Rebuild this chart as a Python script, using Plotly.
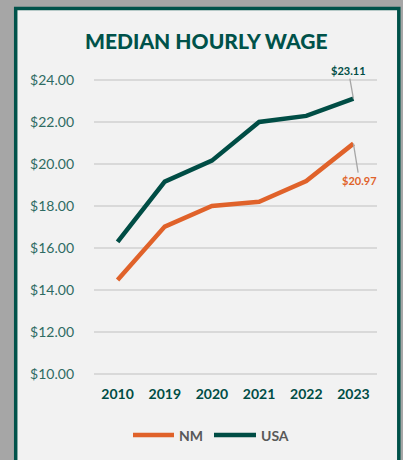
import plotly.graph_objects as go

years = ["2010", "2019", "2020", "2021", "2022", "2023"]
nm = [14.48, 17.02, 18.00, 18.20, 19.19, 20.97]
usa = [16.29, 19.16, 20.16, 22.00, 22.29, 23.11]
series_names = ["NM", "USA"]
tick_vals = [10, 12, 14, 16, 18, 20, 22, 24]
tick_text = ["$%.2f" % v for v in tick_vals]
title = "MEDIAN HOURLY WAGE"

ORANGE = "#e0622a"
GREEN = "#004d45"
W, H = 403, 460
L, R, T, B = 94, 26, 70, 76
pw, ph = W - L - R, H - T - B

def px(x):
    return (x - L) / pw

def py(y):
    return (H - B - y) / ph

fig = go.Figure()
fig.add_trace(go.Scatter(x=years, y=nm, mode="lines", name=series_names[0],
                         line=dict(color=ORANGE, width=4.5), showlegend=False, cliponaxis=False))
fig.add_trace(go.Scatter(x=years, y=usa, mode="lines", name=series_names[1],
                         line=dict(color=GREEN, width=4.5), showlegend=False, cliponaxis=False))

shapes = [
    dict(type="rect", xref="paper", yref="paper", x0=px(15.7), x1=px(398.8),
         y0=py(480), y1=py(8.6), fillcolor="#f2f2f2",
         line=dict(color="#00524a", width=3.5), layer="below"),
]
leg = [(series_names[0], ORANGE, 133, 174, 177), (series_names[1], GREEN, 214, 256, 259)]
annotations = []
for name, col, a, b, tx in leg:
    shapes.append(dict(type="line", xref="paper", yref="paper", x0=px(a), x1=px(b),
                       y0=py(435), y1=py(435), line=dict(color=col, width=4.5)))
    annotations.append(dict(xref="paper", yref="paper", x=px(tx), y=py(435.5), text="<b>%s</b>" % name,
                            showarrow=False, xanchor="left", yanchor="middle",
                            font=dict(family="Lato", size=14, color="#595959")))

last = len(years) - 1
annotations.append(dict(xref="x", yref="y", x=last, y=usa[-1], text="<b>$%.2f</b>" % usa[-1],
                        showarrow=True, arrowhead=0, arrowwidth=1.3, arrowcolor="#a6a6a6",
                        ax=-5, ay=-28, font=dict(family="Lato", size=11, color=GREEN)))
annotations.append(dict(xref="x", yref="y", x=last, y=nm[-1], text="<b>$%.2f</b>" % nm[-1],
                        showarrow=True, arrowhead=0, arrowwidth=1.3, arrowcolor="#a6a6a6",
                        ax=6, ay=37, font=dict(family="Lato", size=11, color=ORANGE)))
annotations.append(dict(xref="paper", yref="paper", x=px(206), y=py(40), text=title,
                        showarrow=False, xanchor="center", yanchor="middle",
                        font=dict(family="Lato", size=21, color="#00524a", weight=900)))

fig.update_layout(
    width=W, height=H, margin=dict(l=L, r=R, t=T, b=B, pad=0),
    paper_bgcolor="#a6a6a6", plot_bgcolor="rgba(0,0,0,0)",
    shapes=shapes, annotations=annotations, showlegend=False,
    xaxis=dict(type="category", range=[-0.5, 5.5], showgrid=False, zeroline=False, showline=False,
               ticks="", tickfont=dict(family="Lato", size=14, color=GREEN),
               tickvals=years, ticktext=["<b>%s</b>" % y for y in years]),
    yaxis=dict(range=[10 - 10 / 21, 24 + 10 / 21], tickvals=tick_vals, ticktext=tick_text,
               showgrid=True, gridcolor="#d9d9d9", gridwidth=1.5, zeroline=False, showline=False,
               ticks="", ticklabelstandoff=19,
               tickfont=dict(family="Lato", size=14, color="#2e6b63")),
)
fig.write_html("out.html", config={"displayModeBar": False},
               post_script="document.body.style.margin='0';")
